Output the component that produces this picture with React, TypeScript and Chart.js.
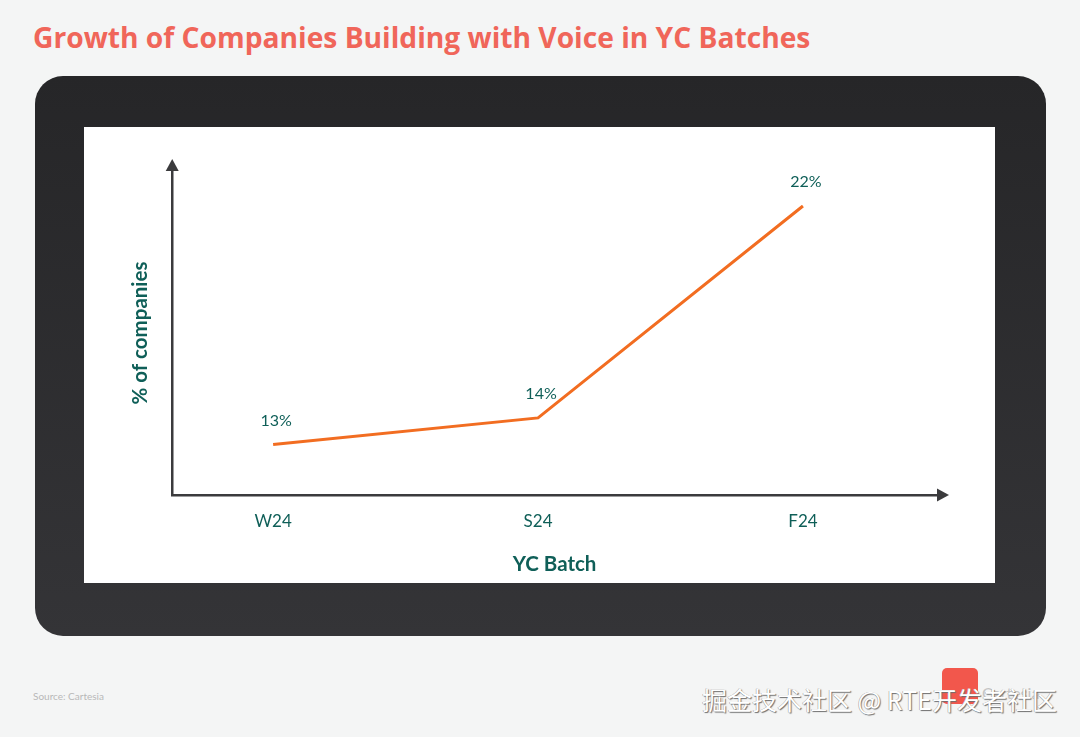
import React, { useEffect, useRef } from "react";
import { Chart, registerables } from "chart.js";

Chart.register(...registerables);

// YC batches and share of companies building with voice (%)
const batches = ["W24", "S24", "F24"];
const shares = [13, 14, 22];
const valueLabels = ["13%", "14%", "22%"];

const TEAL = "#0f5f58";
const AXIS = "#3b3b3d";
const LINE = "#f26d21";
const FONT = "Lato, 'Open Sans', sans-serif";

// Arrow heads at the ends of both axes
const axisArrows = {
  id: "axisArrows",
  afterDraw(chart: any) {
    const { ctx, chartArea } = chart;
    const { left, top, right, bottom } = chartArea;
    ctx.save();
    ctx.fillStyle = AXIS;
    ctx.beginPath();
    ctx.moveTo(left - 6.5, top);
    ctx.lineTo(left + 6.5, top);
    ctx.lineTo(left, top - 12);
    ctx.closePath();
    ctx.fill();
    ctx.beginPath();
    ctx.moveTo(right, bottom - 6.5);
    ctx.lineTo(right, bottom + 6.5);
    ctx.lineTo(right + 12, bottom);
    ctx.closePath();
    ctx.fill();
    ctx.restore();
  },
};

// Percentage labels above each point
const pointLabels = {
  id: "pointLabels",
  afterDatasetsDraw(chart: any) {
    const { ctx } = chart;
    const meta = chart.getDatasetMeta(0);
    ctx.save();
    ctx.fillStyle = TEAL;
    ctx.font = `16px ${FONT}`;
    ctx.textAlign = "center";
    ctx.textBaseline = "middle";
    meta.data.forEach((pt: any, i: number) => {
      ctx.fillText(valueLabels[i], pt.x + 3, pt.y - 24);
    });
    ctx.restore();
  },
};

function VoiceChart() {
  const ref = useRef<HTMLCanvasElement | null>(null);
  useEffect(() => {
    if (!ref.current) return;
    const chart = new Chart(ref.current, {
      type: "line",
      data: {
        datasets: [
          {
            data: shares.map((v, i) => ({ x: i, y: v })),
            borderColor: LINE,
            borderWidth: 3,
            pointRadius: 0,
            tension: 0,
            fill: false,
          },
        ],
      },
      options: {
        animation: false,
        responsive: false,
        events: [],
        layout: { padding: { left: 44, top: 44, right: 58, bottom: 6 } },
        plugins: { legend: { display: false }, tooltip: { enabled: false } },
        scales: {
          x: {
            type: "linear",
            min: -0.381,
            max: 2.506,
            afterBuildTicks: (scale: any) => {
              scale.ticks = batches.map((_, i) => ({ value: i }));
            },
            ticks: {
              callback: (v: any) => batches[v] ?? "",
              color: TEAL,
              font: { family: FONT, size: 17 },
              padding: 16,
              maxRotation: 0,
              autoSkip: false,
            },
            grid: { display: false, drawTicks: false },
            border: { color: AXIS, width: 2.5 },
            title: {
              display: true,
              text: "YC Batch",
              color: TEAL,
              font: { family: FONT, size: 20.5, weight: "bold" },
              padding: { top: 5, bottom: 0 },
            },
          },
          y: {
            type: "linear",
            min: 11.09,
            max: 23.32,
            ticks: { display: false },
            grid: { display: false, drawTicks: false },
            border: { color: AXIS, width: 2.5 },
            title: {
              display: true,
              text: "% of companies",
              color: TEAL,
              font: { family: FONT, size: 20.5, weight: "bold" },
              padding: { top: 0, bottom: 19.6 },
            },
          },
        },
      },
      plugins: [axisArrows, pointLabels],
    } as any);
    return () => chart.destroy();
  }, []);
  return <canvas ref={ref} width={911} height={456} style={{ display: "block" }} />;
}

export default function App() {
  return (
    <div
      style={{
        position: "fixed",
        left: 0,
        top: 0,
        width: 1080,
        height: 737,
        background: "#f4f5f5",
        overflow: "hidden",
        fontFamily: FONT,
      }}
    >
      <div
        style={{
          position: "absolute",
          left: 33,
          top: 17,
          fontSize: 28.2,
          fontWeight: 700,
          fontFamily: "'Open Sans', sans-serif",
          color: "#f0665a",
          whiteSpace: "nowrap",
          lineHeight: "40px",
        }}
      >
        Growth of Companies Building with Voice in YC Batches
      </div>
      <div
        style={{
          position: "absolute",
          left: 35,
          top: 76,
          width: 1011,
          height: 560,
          borderRadius: 28,
          background: "linear-gradient(#262628, #343437)",
        }}
      />
      <div
        style={{
          position: "absolute",
          left: 84,
          top: 127,
          width: 911,
          height: 456,
          background: "#ffffff",
        }}
      >
        <VoiceChart />
      </div>
      <div
        style={{
          position: "absolute",
          left: 33,
          top: 690,
          fontSize: 10,
          color: "#b8b8b8",
        }}
      >
        Source: Cartesia
      </div>
      <div
        style={{
          position: "absolute",
          left: 942,
          top: 668,
          width: 36,
          height: 36,
          borderRadius: 5,
          background: "#f2574c",
        }}
      />
      <div
        style={{
          position: "absolute",
          left: 982,
          top: 683,
          fontSize: 16,
          color: "#c4c4c4",
        }}
      >
        Cartesia
      </div>
      <div
        style={{
          position: "absolute",
          left: 702,
          top: 682,
          fontSize: 25,
          fontFamily: "'Noto Sans CJK SC', sans-serif",
          color: "#ffffff",
          whiteSpace: "nowrap",
          textShadow: "1px 1px 1px #6e6e6e, -0.5px -0.5px 0.5px #9a9a9a",
          lineHeight: "34px",
        }}
      >
        掘金技术社区 @ RTE开发者社区
      </div>
    </div>
  );
}
